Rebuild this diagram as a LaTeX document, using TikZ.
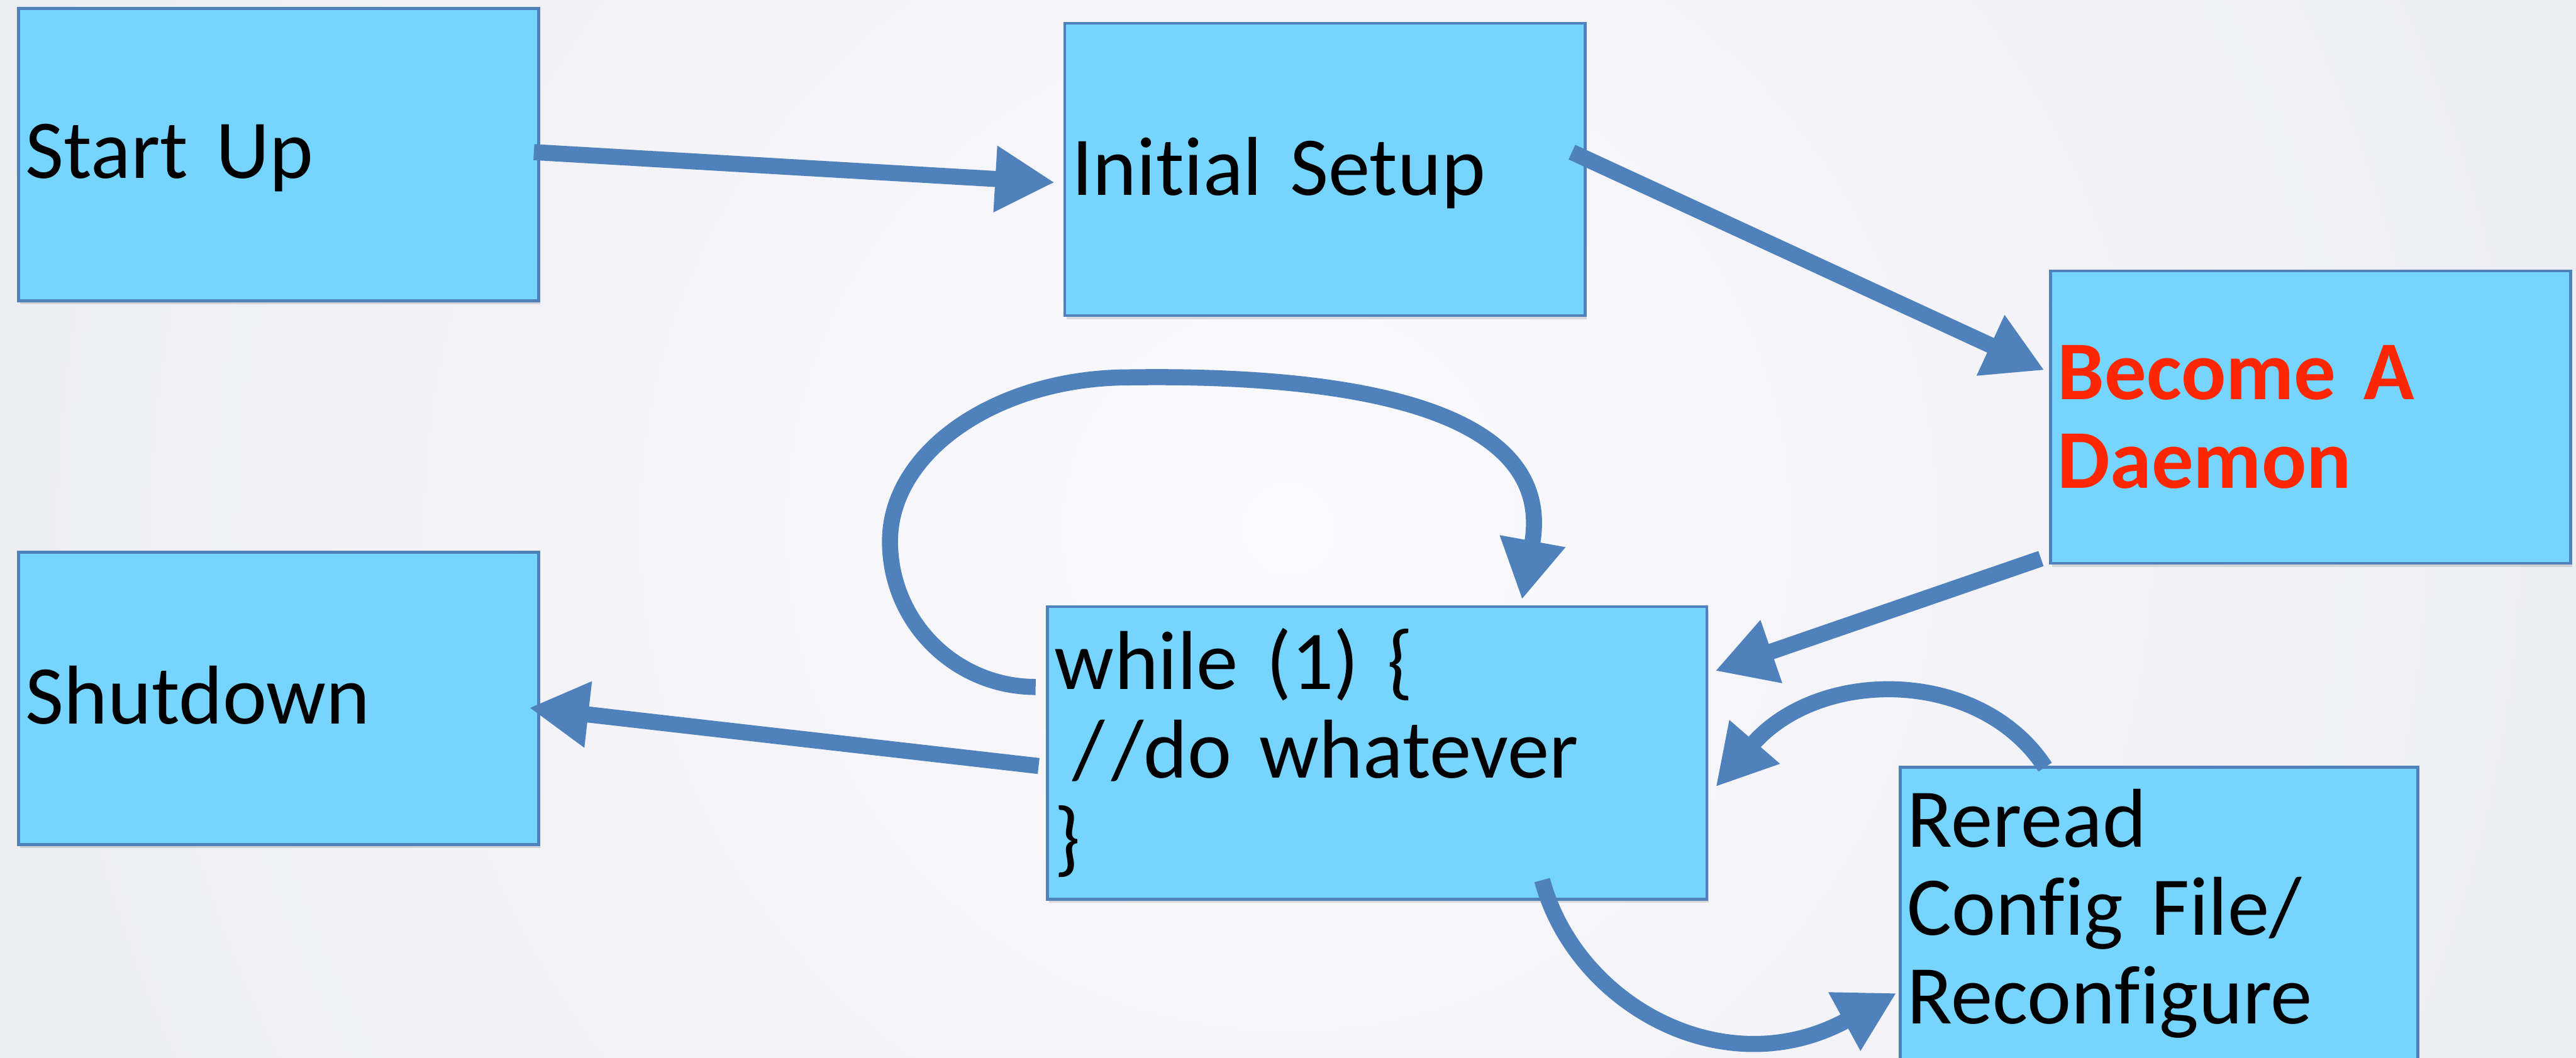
\documentclass[tikz,border=0pt]{standalone}
\usepackage{fontspec}
\setmainfont{Carlito}[Ligatures=NoCommon]
\usetikzlibrary{calc,positioning,arrows.meta,shadows}
\definecolor{boxfill}{RGB}{117,213,254}
\definecolor{boxedge}{RGB}{79,129,189}
\definecolor{daemonred}{RGB}{255,38,0}
\definecolor{bgmid}{RGB}{251,251,253}
\definecolor{bgrim}{RGB}{221,221,234}
\tikzset{%
  stage/.style={rectangle,draw=boxedge,line width=1.4pt,fill=boxfill,
    text width=8.51cm,align=left,inner xsep=.12cm,minimum height=4.92cm,
    outer sep=0pt,
    anchor=north west,font=\fontsize{40}{42.3}\selectfont,
    drop shadow={shadow xshift=.03cm,shadow yshift=-.06cm,opacity=.25}},
  oneline/.style={text depth=3pt},
  flow/.style={draw=boxedge,line width=.27cm,-{Triangle[length=1cm,width=1.05cm]}}
}

\begin{document}
\begin{tikzpicture}
	\useasboundingbox (0,0) rectangle (43.33,17.80);
	\begin{scope}
	\clip (0,0) rectangle (43.33,17.80);
	\shade[inner color=bgmid,outer color=bgrim] (21.67,8.9) circle (46);
	\end{scope}
	
	\begin{scope}[every node/.style={stage}]
	\node[oneline] at (.31,17.66) (startup) {Start Up};
	\node[oneline] at ([xshift=8.85cm,yshift=-.25cm] startup.north east) (setup) {Initial Setup};
	\node[text=daemonred] at ([xshift=7.83cm,yshift=-4.17cm] setup.north east) (daemon) {\bfseries Become A\\ Daemon};
	\node[text width=10.85cm] at ([xshift=-.29cm,yshift=-4.90cm] setup.south west) (loop) {while (1) \{\\ \hspace*{.3cm}/\kern.08em/do whatever\\ \}};
	\node[oneline] at ([yshift=-4.23cm] startup.south west) (shutdown) {Shutdown};
	\node[text width=8.47cm] at ([xshift=3.25cm,yshift=-2.70cm] loop.north east) (reread) {Reread\\ Config File/\\ Reconfigure};
	\end{scope}
	
	\begin{scope}[flow]
	\draw ([xshift=-.08cm,yshift=.04cm] startup.east) -- ([xshift=-.17cm,yshift=-.22cm] setup.west);
	\draw ([xshift=-.22cm,yshift=.29cm] setup.east) -- ([xshift=-.10cm,yshift=.79cm] daemon.west);
	\draw ([xshift=-.16cm,yshift=.08cm] daemon.south west) -- ([xshift=.14cm,yshift=1.38cm] loop.east);
	\draw ([xshift=-.15cm,yshift=-.22cm] loop.west) -- ([xshift=-.16cm,yshift=-.16cm] shutdown.east);
	% the loop goes round once more
	\draw ([xshift=-.20cm,yshift=1.11cm] loop.west) .. controls +(-1.35,0) and (14.97,7.33) .. (14.97,8.69)
		.. controls (14.97,10.21) and (16.78,11.45) .. (19.00,11.45)
		.. controls (22.50,11.50) and (26.20,11.00) .. ([xshift=7.98cm,yshift=.12cm] loop.north west);
	\draw ([xshift=2.44cm] reread.north west) .. controls (33.30,6.57) and (30.60,6.57) .. ([xshift=.15cm,yshift=-.57cm] loop.east);
	\draw ([xshift=8.32cm,yshift=.32cm] loop.south west) .. controls (26.50,.90) and (29.00,-.50) .. ([xshift=-.06cm,yshift=-1.34cm] reread.west);
	\end{scope}
\end{tikzpicture}
\end{document}
